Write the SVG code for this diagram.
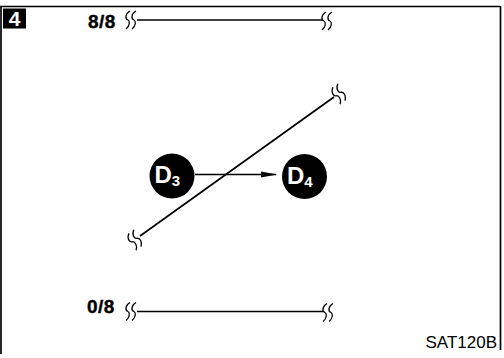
<svg xmlns="http://www.w3.org/2000/svg" xmlns:xlink="http://www.w3.org/1999/xlink" width="504" height="358" viewBox="0 0 504 358">
<style>
.ln{stroke:#000;stroke-width:1.7;fill:none}
.brk{stroke:#000;stroke-width:1.3;fill:none}
.lbl{font-family:"Liberation Sans",Arial,sans-serif;font-weight:bold;font-size:19px;fill:#000;stroke:#000;stroke-width:0.4;letter-spacing:0.5px}
.nd{fill:#000}
.nt{font-family:"Liberation Sans",Arial,sans-serif;font-weight:bold;fill:#fff}
.code{font-family:"Liberation Sans",Arial,sans-serif;font-size:17px;fill:#000}
</style>
<defs>
<g id="brk">
<path class="brk" d="M-1,-9 C-6,-6 -6,-1 -3,0 C-1,1 -1,6 -5,9"/>
<path class="brk" d="M5,-9 C0,-6 0,-1 3,0 C5,1 5,6 1,9"/>
</g>
<marker id="ah" markerWidth="16" markerHeight="8" refX="15" refY="4" orient="auto" markerUnits="userSpaceOnUse">
<path d="M0,1 L16,4 L0,7 Z" fill="#000"/>
</marker>
</defs>
<rect x="0" y="0" width="504" height="358" fill="#fff"/>
<g id="frame">
<line class="ln" x1="0" y1="6.5" x2="500" y2="6.5" stroke-width="1.2"/>
<line class="ln" x1="1" y1="6" x2="1" y2="354" stroke="#bbb" stroke-width="1"/>
<line class="ln" x1="500.5" y1="6" x2="500.5" y2="350" stroke-width="1.5"/>
</g>
<g id="badge">
<rect x="3" y="8.5" width="23" height="20" fill="#000"/>
<text x="14.5" y="26" text-anchor="middle" font-family="Liberation Sans,Arial,sans-serif" font-weight="bold" font-size="21" fill="#fff">4</text>
</g>
<g id="labels">
<text class="lbl" x="88" y="28">8/8</text>
<text class="lbl" x="87" y="313">0/8</text>
<text class="code" x="497" y="348" text-anchor="end">SAT120B</text>
</g>
<g id="connectors">
<line class="ln" x1="137" y1="20" x2="322" y2="20"/>
<use xlink:href="#brk" transform="translate(131,20)"/>
<use xlink:href="#brk" transform="translate(327,21)"/>
<line class="ln" x1="137" y1="311.5" x2="323" y2="311.5"/>
<use xlink:href="#brk" transform="translate(131,311.5)"/>
<use xlink:href="#brk" transform="translate(328,312.5)"/>
<line class="ln" x1="140" y1="236" x2="334" y2="97" stroke-width="1.5"/>
<use xlink:href="#brk" transform="translate(135,240) rotate(-35.6)"/>
<use xlink:href="#brk" transform="translate(339,94) rotate(-35.6)"/>
<line class="ln" x1="195" y1="174.5" x2="276" y2="174.5" stroke-width="2" marker-end="url(#ah)"/>
</g>
<g id="D3">
<circle class="nd" cx="172" cy="176" r="22.5"/>
<text class="nt" x="154.5" y="183" font-size="24">D<tspan font-size="15" dy="3">3</tspan></text>
</g>
<g id="D4">
<circle class="nd" cx="304.5" cy="176.5" r="22.5"/>
<text class="nt" x="287" y="183.5" font-size="24">D<tspan font-size="15" dy="3">4</tspan></text>
</g>
</svg>
